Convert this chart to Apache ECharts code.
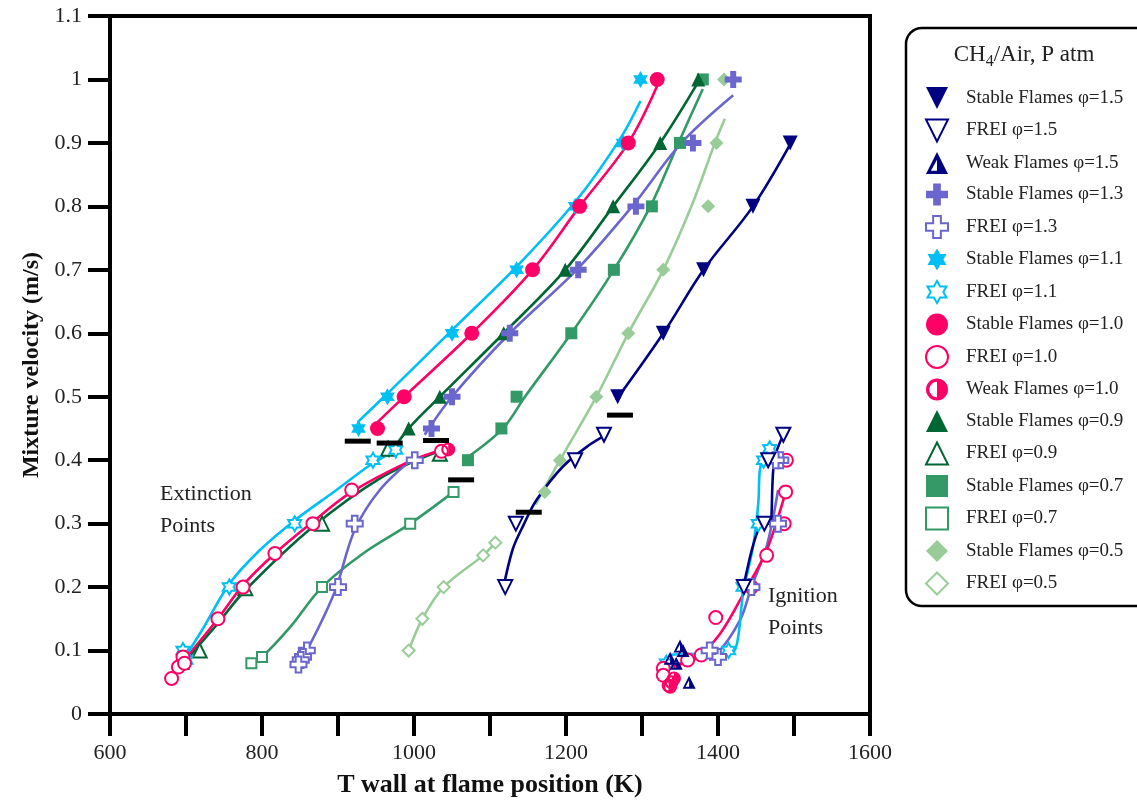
<!DOCTYPE html>
<html><head><meta charset="utf-8">
<script src="https://cdn.jsdelivr.net/npm/echarts@6/dist/echarts.min.js"></script>
<style>html,body{margin:0;padding:0;background:#fff}#c{width:1137px;height:805px}</style>
</head><body><div id="c"></div>
<script>
// ---- data (T wall [K], mixture velocity [m/s]) ----
const stable15 = [[1268,0.50],[1328,0.60],[1381,0.70],[1446,0.80],[1495,0.90]];
const frei15 = [[1120,0.20],[1134,0.30],[1212,0.40],[1250,0.44],[1434,0.20],[1461,0.30],[1466,0.40],[1486,0.44]];
const weak15 = [[1337,0.088],[1350,0.107],[1354,0.10],[1345,0.08],[1362,0.05]];
const stable13 = [[1023,0.45],[1050,0.50],[1126,0.60],[1216,0.70],[1292,0.80],[1367,0.90],[1420,1.00]];
const frei13 = [[1001,0.40],[922,0.30],[900,0.20],[859,0.10],[854,0.09],[851,0.085],[848,0.078],[1482,0.40],[1476,0.40],[1479,0.30],[1444,0.20],[1400,0.09],[1389,0.10]];
const stable11 = [[927,0.45],[965,0.50],[1050,0.60],[1135,0.70],[1212,0.80],[1275,0.90],[1298,1.00]];
const frei11 = [[976,0.416],[946,0.40],[843,0.30],[757,0.20],[696,0.10],[700,0.085],[1468,0.418],[1460,0.40],[1453,0.30],[1433,0.20],[1414,0.10],[1332,0.08]];
const stable10 = [[952,0.45],[987,0.50],[1076,0.60],[1156,0.70],[1218,0.80],[1282,0.90],[1320,1.00]];
const frei10 = [[1036,0.414],[918,0.353],[867,0.30],[817,0.253],[775,0.20],[742,0.15],[696,0.09],[690,0.074],[681,0.056],[698,0.08],[1490,0.40],[1489,0.35],[1487,0.30],[1464,0.25],[1444,0.20],[1397,0.152],[1378,0.093],[1360,0.085],[1328,0.072],[1328,0.061]];
const weak10 = [[1045,0.417],[1337,0.043],[1339,0.05],[1342,0.056],[1335,0.045]];
const stable09 = [[993,0.45],[1034,0.50],[1118,0.60],[1199,0.70],[1262,0.80],[1324,0.90],[1374,1.00]];
const frei09 = [[1034,0.41],[966,0.418],[879,0.30],[778,0.198],[718,0.10],[694,0.082]];
const stable07 = [[1071,0.40],[1115,0.45],[1135,0.50],[1207,0.60],[1263,0.70],[1313,0.80],[1350,0.90],[1380,1.00]];
const frei07 = [[1052,0.35],[995,0.30],[879,0.20],[800,0.09],[786,0.08]];
const stable05 = [[1172,0.35],[1192,0.40],[1240,0.50],[1282,0.60],[1328,0.70],[1387,0.80],[1398,0.90],[1408,1.00]];
const frei05 = [[993,0.10],[1011,0.15],[1039,0.20],[1091,0.25],[1107,0.27]];
const blackBars = [[926,0.43],[968,0.427],[1029,0.431],[1062,0.369],[1151,0.318],[1271,0.471]];

// fitted curves as drawn in the figure
const fitS15 = [[1266,0.495],[1328,0.60],[1381,0.70],[1446,0.80],[1496,0.90]];
const fitF15 = [[1117,0.195],[1130,0.26],[1145,0.30],[1161,0.337],[1196,0.39],[1232,0.425],[1253,0.44]];
const fitI15 = [[1432,0.19],[1460,0.30],[1468,0.30],[1474,0.40],[1486,0.44]];
const fitS13 = [[1014,0.44],[1050,0.50],[1126,0.60],[1214,0.70],[1287,0.80],[1352,0.90],[1420,0.975]];
const fitF13 = [[859,0.10],[880,0.15],[898,0.20],[922,0.29],[955,0.353],[999,0.403]];
const fitI13 = [[1335,0.075],[1350,0.08],[1380,0.09],[1398,0.095],[1429,0.148],[1444,0.20],[1464,0.264],[1479,0.353]];
const fitS11 = [[926,0.46],[965,0.505],[1050,0.605],[1135,0.705],[1214,0.81],[1271,0.906],[1298,0.966]];
const fitF11 = [[688,0.07],[720,0.13],[757,0.205],[797,0.258],[843,0.305],[898,0.353],[942,0.392],[979,0.418]];
const fitI11 = [[1332,0.062],[1337,0.093],[1380,0.095],[1416,0.095],[1425,0.111],[1433,0.19],[1446,0.263],[1453,0.332],[1455,0.384],[1460,0.408],[1468,0.424]];
const fitS10 = [[952,0.46],[987,0.50],[1076,0.60],[1156,0.70],[1218,0.80],[1282,0.90],[1320,0.99]];
const fitF10 = [[686,0.068],[742,0.15],[775,0.203],[817,0.253],[867,0.303],[918,0.35],[992,0.397],[1036,0.416]];
const fitI10 = [[1330,0.07],[1372,0.09],[1403,0.127],[1436,0.195],[1464,0.258],[1489,0.35]];
const fitS09 = [[966,0.405],[993,0.45],[1034,0.50],[1118,0.60],[1199,0.70],[1262,0.80],[1324,0.90],[1376,1.00]];
const fitF09 = [[686,0.066],[740,0.14],[778,0.195],[867,0.295],[959,0.374],[1030,0.413]];
const fitS07 = [[1071,0.405],[1117,0.45],[1146,0.50],[1207,0.60],[1263,0.70],[1311,0.80],[1348,0.90],[1380,0.985]];
const fitF07 = [[786,0.08],[800,0.09],[837,0.137],[879,0.20],[933,0.253],[995,0.30],[1052,0.35]];
const fitS05 = [[1160,0.33],[1192,0.40],[1240,0.50],[1282,0.60],[1328,0.70],[1365,0.80],[1396,0.90],[1409,0.938]];
const fitF05 = [[993,0.10],[1011,0.15],[1039,0.20],[1091,0.25],[1107,0.27]];

const xTicks = [600,800,1000,1200,1400,1600];

// ---- styling ----
const C15='#000080', C13='#6A66CD', C11='#00BFF3', C10='#FF0066', C09='#006633', C07='#339966', C05='#99CC99';
const P_DOWN='path://M0,0L20,0L10,20Z';
const P_UP='path://M10,0L20,20L0,20Z';
const P_STAR='path://M10,0L12.89,5L18.66,5L15.77,10L18.66,15L12.89,15L10,20L7.11,15L1.34,15L4.23,10L1.34,5L7.11,5Z';
const P_PLUS='path://M6.5,0H13.5V6.5H20V13.5H13.5V20H6.5V13.5H0V6.5H6.5Z';
const P_HALFCIRC='path://M10,0A10,10 0 1,1 10,20A10,10 0 1,1 10,0L10,3A7,7 0 0,0 10,17L10,3Z';
const P_HALFTRI='path://M10,0L20,20L0,20L10,0L10,7L4.5,17L10,17Z';
const P_SQ='path://M0,0H20V20H0Z';
const P_DIA='path://M10,0L20,10L10,20L0,10Z';
const SERIF='"Liberation Serif","Times New Roman",serif';

function sc(name,data,symbol,size,color,hollow){
  return {type:'scatter',name,data,symbol,symbolSize:size,symbolKeepAspect:true,z:5,
    itemStyle: hollow?{color:'#fff',borderColor:color,borderWidth:2,opacity:1}:{color:color,borderWidth:0,opacity:1}};
}
function ln(name,data,color){
  return {type:'line',name,data,smooth:0.35,symbol:'none',showSymbol:false,silent:true,z:3,
    lineStyle:{color,width:2.6,opacity:1},itemStyle:{color}};
}
const L = [
  ['Stable Flames φ=1.5', P_DOWN, C15, false],
  ['FREI φ=1.5', P_DOWN, C15, true],
  ['Weak Flames φ=1.5', P_HALFTRI, C15, false],
  ['Stable Flames φ=1.3', P_PLUS, C13, false],
  ['FREI φ=1.3', P_PLUS, C13, true],
  ['Stable Flames φ=1.1', P_STAR, C11, false],
  ['FREI φ=1.1', P_STAR, C11, true],
  ['Stable Flames φ=1.0', 'circle', C10, false],
  ['FREI φ=1.0', 'circle', C10, true],
  ['Weak Flames φ=1.0', P_HALFCIRC, C10, false],
  ['Stable Flames φ=0.9', P_UP, C09, false],
  ['FREI φ=0.9', P_UP, C09, true],
  ['Stable Flames φ=0.7', P_SQ, C07, false],
  ['FREI φ=0.7', P_SQ, C07, true],
  ['Stable Flames φ=0.5', P_DIA, C05, false],
  ['FREI φ=0.5', P_DIA, C05, true]
];
const legendData = L.map(([n,icon,c,h])=>({name:n,icon:icon,
  itemStyle: h?{color:'#fff',borderColor:c,borderWidth:2,opacity:1}:{color:c,borderWidth:0,opacity:1}}));

const series = [
  ln('f05',fitF05,C05), ln('s05',fitS05,C05),
  ln('f07',fitF07,C07), ln('s07',fitS07,C07),
  ln('f09',fitF09,C09), ln('s09',fitS09,C09),
  ln('f13',fitF13,C13), ln('s13',fitS13,C13), ln('i13',fitI13,C13),
  ln('f10',fitF10,C10), ln('s10',fitS10,C10), ln('i10',fitI10,C10),
  ln('f11',fitF11,C11), ln('s11',fitS11,C11), ln('i11',fitI11,C11),
  ln('f15',fitF15,C15), ln('s15',fitS15,C15), ln('i15',fitI15,C15),
  sc(L[14][0],stable05,P_DIA,14,C05,false),
  sc(L[15][0],frei05,P_DIA,12,C05,true),
  sc(L[12][0],stable07,P_SQ,12,C07,false),
  sc(L[13][0],frei07,P_SQ,10,C07,true),
  sc(L[10][0],stable09,P_UP,14,C09,false),
  sc(L[11][0],frei09,P_UP,14,C09,true),
  sc(L[5][0],stable11,P_STAR,17,C11,false),
  sc(L[6][0],frei11,P_STAR,15,C11,true),
  sc(L[7][0],stable10,'circle',15,C10,false),
  sc(L[8][0],frei10,'circle',13,C10,true),
  sc(L[9][0],weak10,P_HALFCIRC,14,C10,false),
  sc(L[3][0],stable13,P_PLUS,17,C13,false),
  sc(L[4][0],frei13,P_PLUS,16,C13,true),
  sc(L[0][0],stable15,P_DOWN,15,C15,false),
  sc(L[1][0],frei15,P_DOWN,14,C15,true),
  sc(L[2][0],weak15,P_HALFTRI,13,C15,false),
  {type:'scatter',name:'bars',data:blackBars,symbol:'rect',symbolSize:[26,5],z:6,itemStyle:{color:'#000',opacity:1}}
];

const chart = echarts.init(document.getElementById('c'));
chart.setOption({
  animation:false,
  backgroundColor:'#fff',
  grid:{left:110,right:267,top:16,bottom:91,show:true,borderColor:'#000',borderWidth:4},
  xAxis:{type:'value',min:600,max:1600,interval:100,
    axisLine:{onZero:false,lineStyle:{color:'#000',width:4}},
    axisTick:{length:22,lineStyle:{color:'#000',width:4}},
    axisLabel:{margin:28,fontFamily:SERIF,fontSize:22,color:'#222',
      formatter:v=>xTicks.indexOf(v)>=0?String(v):''},
    splitLine:{show:false},
    name:'T wall at flame position (K)',nameLocation:'middle',nameGap:58,
    nameTextStyle:{fontFamily:SERIF,fontWeight:'bold',fontSize:26,color:'#111'}},
  yAxis:{type:'value',min:0,max:1.1,interval:0.1,
    axisLine:{onZero:false,lineStyle:{color:'#000',width:4}},
    axisTick:{length:22,lineStyle:{color:'#000',width:4}},
    axisLabel:{margin:28,fontFamily:SERIF,fontSize:22,color:'#222',
      formatter:v=>String(+(+v).toFixed(1))},
    splitLine:{show:false},
    name:'Mixture velocity (m/s)',nameLocation:'middle',nameGap:62,nameRotate:90,
    nameTextStyle:{fontFamily:SERIF,fontWeight:'bold',fontSize:24,color:'#111'}},
  legend:{orient:'vertical',left:920,top:82,itemWidth:48,itemHeight:22,itemGap:9.5,
    selectedMode:false,textStyle:{fontFamily:SERIF,fontSize:19,color:'#222'},data:legendData},
  graphic:[
    {type:'rect',shape:{x:906,y:28,width:260,height:578,r:16},style:{fill:'none',stroke:'#000',lineWidth:2.5},z:10},
    {type:'text',x:1024,y:55,z:10,style:{text:'{m|CH}{s|4}{m|/Air, P atm}',align:'center',verticalAlign:'middle',
      rich:{m:{fontFamily:SERIF,fontSize:23,fill:'#222',lineHeight:30,verticalAlign:'middle'},
            s:{fontFamily:SERIF,fontSize:16,fill:'#222',lineHeight:30,verticalAlign:'bottom'}}}},
    {type:'text',left:160,top:478,z:10,style:{text:'Extinction\nPoints',font:'22px '+SERIF,lineHeight:32,fill:'#222'}},
    {type:'text',left:768,top:580,z:10,style:{text:'Ignition\nPoints',font:'22px '+SERIF,lineHeight:32,fill:'#222'}}
  ],
  series:series
});
</script></body></html>
